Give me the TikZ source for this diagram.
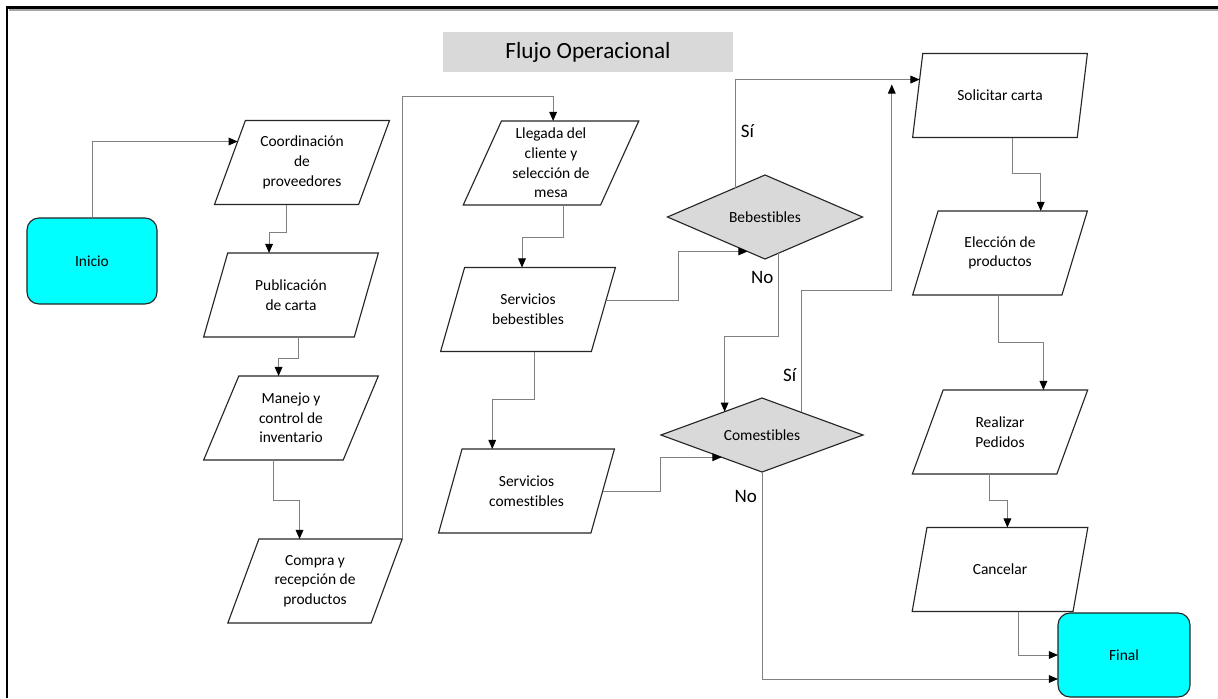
\documentclass[tikz,border=0pt]{standalone}
\usepackage{fontspec}
\setmainfont{Carlito}[Ligatures=NoCommon]
\usepackage{tikz}
\usetikzlibrary{arrows.meta,positioning,shapes,calc}
\definecolor{cian}{HTML}{00FFFF}
\definecolor{gris}{HTML}{D9D9D9}
\definecolor{linea}{HTML}{808080}

\begin{document}
\begin{tikzpicture}[x=0.025cm, y=-0.025cm, font=\fontsize{11}{14}\selectfont,
terminal node/.style={rectangle,rounded corners=0.3cm,draw=black!85,fill=cian,line width=0.8pt,minimum width=3.25cm,minimum height=2.15cm,outer sep=0pt},
proc node/.style={trapezium,trapezium left angle=67,trapezium right angle=113,trapezium stretches=true,draw=black!85,fill=white,line width=0.8pt,minimum width=4.4cm,minimum height=2.1cm,align=center,inner sep=1pt,outer sep=0pt},
dec node/.style={diamond,aspect=2.3,draw=black!85,fill=gris,line width=0.8pt,inner sep=1pt,outer sep=0pt},
title node/.style={fill=gris,minimum width=7.25cm,minimum height=1cm,font=\fontsize{16.5}{20}\selectfont},
flow/.style={draw=linea,line width=0.7pt,-{Triangle[color=black,length=6.5pt,width=5.5pt]}},
lbl/.style={font=\fontsize{13.5}{16}\selectfont}]
\useasboundingbox (0,0) rectangle (1218,698);
\fill[white] (0,0) rectangle (1218,698);
\draw[black!35,line width=1pt] (9,10) -- (1218,10);
\draw[line width=1.5pt] (7,698) -- (7,7.5) -- (1218,7.5);

\node[title node] (titulo) at (588,52) {Flujo Operacional};
\node[terminal node] (inicio) at (92,261) {Inicio};
\node[terminal node,minimum width=3.3cm,minimum height=2.1cm] (final) at (1124,655) {Final};

\node[proc node] (coord) at (302,162.5) {Coordinación\\de\\proveedores};
\node[proc node] (pub) at (291,295) {Publicación\\de carta};
\node[proc node] (manejo) at (291,418) {Manejo y\\control de\\inventario};
\node[proc node] (compra) at (315,581) {Compra y\\recepción de\\productos};
\node[proc node] (llegada) at (551,163) {Llegada del\\cliente y\\selección de\\mesa};
\node[proc node] (sbeb) at (528,309.5) {Servicios\\bebestibles};
\node[proc node] (scom) at (526.5,491) {Servicios\\comestibles};
\node[proc node] (solic) at (1000,95.5) {Solicitar carta};
\node[proc node] (elec) at (1000,253) {Elección de\\productos};
\node[proc node] (real) at (1000,432) {Realizar\\Pedidos};
\node[proc node] (canc) at (1000,569.5) {Cancelar};

\node[dec node,minimum width=4.875cm,minimum height=2.1cm] (bebe) at (765,217) {Bebestibles};
\node[dec node,minimum width=5.05cm,minimum height=1.85cm] (comest) at (762,435) {Comestibles};

\draw[flow] (inicio.north) |- ($(coord.left side)!.5!(coord.top left corner)$);
\draw[flow] (coord.bottom side) -- ++(0,28) -| ($(pub.top side)+(-34,0)$);
\draw[flow] ($(pub.bottom side)+(20,0)$) -- ++(0,21) -| ($(manejo.top side)+(-30,0)$);
\draw[flow] (manejo.bottom side) -- ++(0,40) -| ($(compra.top side)+(-31,0)$);
\draw[flow] (compra.top right corner) -- ++(0,-443) -| ($(llegada.top side)+(-17,0)$);
\draw[flow] ($(llegada.bottom side)+(32,0)$) -- ++(0,32) -| ($(sbeb.top side)+(-18,0)$);
\draw[flow] ($(sbeb.bottom side)+(18,0)$) -- ++(0,48) -| ($(scom.top side)+(-46,0)$);
\draw[flow] ($(sbeb.right side)+(3,-9)$) -- ++(72,0) |- ($(bebe.west)!.82!(bebe.south)$);
\draw[flow] (scom.right side) -- ++(58,0) |- ($(comest.west)!.6!(comest.south)$);
\draw[flow] ($(bebe.west)!.7!(bebe.north)$) |- node[lbl,right,pos=.26]{Sí} ($(solic.left side)!.38!(solic.top left corner)$);
\draw[flow] ($(bebe.south)!.14!(bebe.east)$) -- node[lbl,left,pos=.29]{No} ++(0,83) -| ($(comest.west)!.63!(comest.north)$);
\draw[flow] ($(comest.north)!.39!(comest.east)$) -- node[lbl,left,pos=.31]{Sí} ++(0,-122) -| ($(solic.top left corner)+(-31,31)$);
\draw[flow] (comest.south) |- node[lbl,left,pos=.06]{No} ($(final.west)+(0,24)$);
\draw[flow] ($(solic.bottom side)+(18,0)$) -- ++(0,36) -| ($(elec.top side)+(28,0)$);
\draw[flow] ($(elec.bottom side)+(11,0)$) -- ++(0,47) -| ($(real.top side)+(28,0)$);
\draw[flow] ($(real.bottom side)+(5,0)$) -- ++(0,26) -| (canc.top side);
\draw[flow] ($(canc.bottom side)+(26,0)$) |- (final.west);
\end{tikzpicture}
\end{document}
